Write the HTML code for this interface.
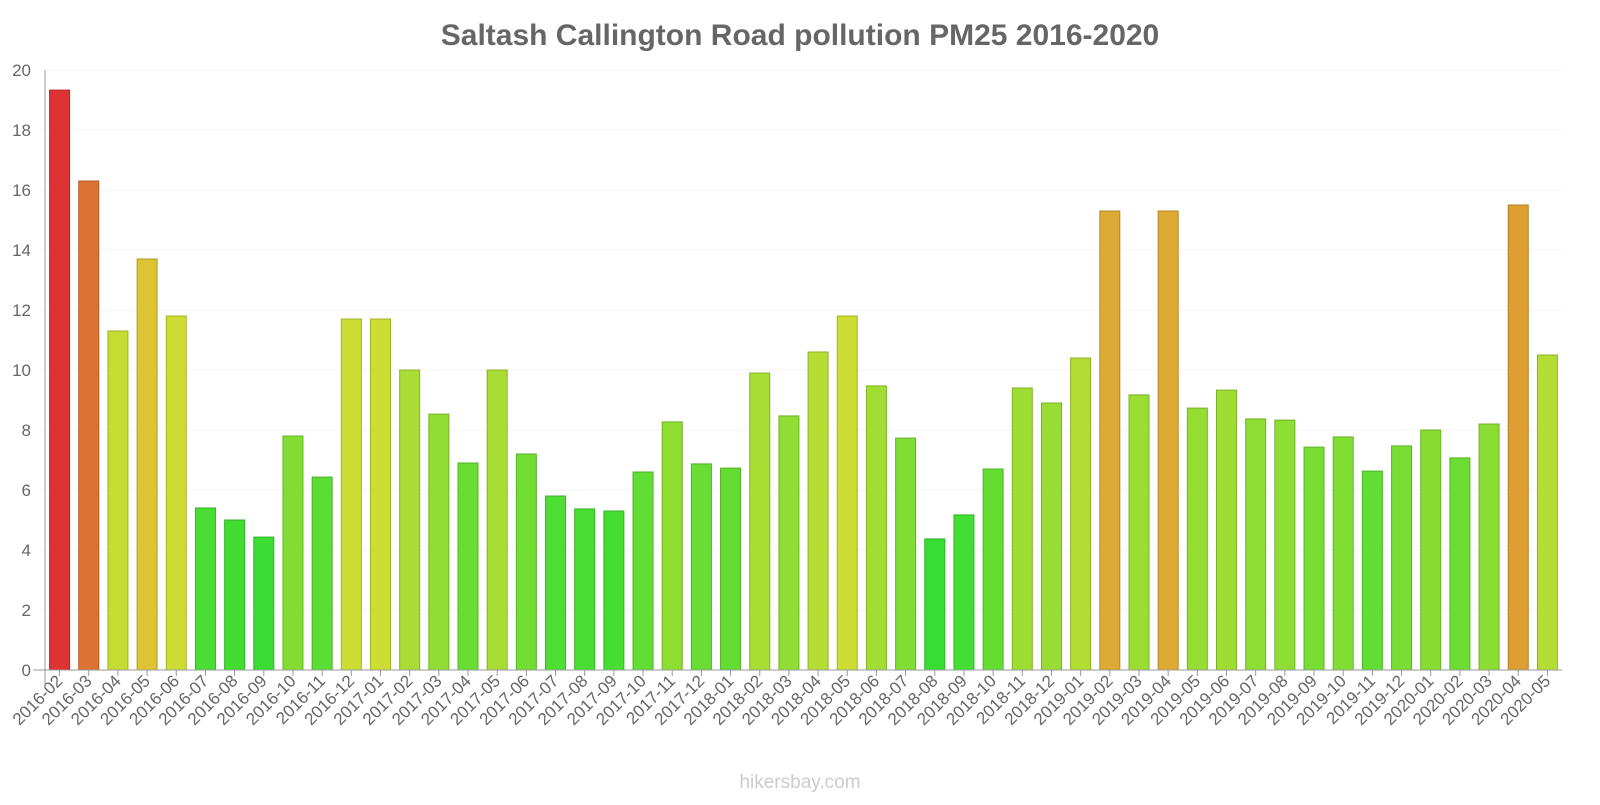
<!DOCTYPE html>
<html><head><meta charset="utf-8"><style>
body{margin:0;background:#fff;font-family:"Liberation Sans",sans-serif}
</style></head><body>
<svg id="chart" width="1600" height="800" xmlns="http://www.w3.org/2000/svg">
<text x="800" y="45" text-anchor="middle" font-size="30" font-weight="bold" fill="#666" font-family="Liberation Sans, sans-serif">Saltash Callington Road pollution PM25 2016-2020</text>
<g id="grid"></g><g id="bars"></g><g id="axes"></g>
<text x="800" y="788" text-anchor="middle" font-size="19" fill="#ccc" font-family="Liberation Sans, sans-serif">hikersbay.com</text>
</svg>
<script>
const categories=["2016-02","2016-03","2016-04","2016-05","2016-06","2016-07","2016-08","2016-09","2016-10","2016-11","2016-12","2017-01","2017-02","2017-03","2017-04","2017-05","2017-06","2017-07","2017-08","2017-09","2017-10","2017-11","2017-12","2018-01","2018-02","2018-03","2018-04","2018-05","2018-06","2018-07","2018-08","2018-09","2018-10","2018-11","2018-12","2019-01","2019-02","2019-03","2019-04","2019-05","2019-06","2019-07","2019-08","2019-09","2019-10","2019-11","2019-12","2020-01","2020-02","2020-03","2020-04","2020-05"];
const values=[19.33,16.3,11.3,13.7,11.8,5.4,5.0,4.43,7.8,6.43,11.7,11.7,10,8.53,6.9,10,7.2,5.8,5.37,5.3,6.6,8.27,6.87,6.73,9.9,8.47,10.6,11.8,9.47,7.73,4.37,5.17,6.7,9.4,8.9,10.4,15.3,9.17,15.3,8.73,9.33,8.37,8.33,7.43,7.77,6.63,7.47,8,7.07,8.2,15.5,10.5];
const yTicks=[0,2,4,6,8,10,12,14,16,18,20];
const NS="http://www.w3.org/2000/svg";
const x0=45,x1=1562,yTop=70,yBot=670,yMax=20;
const band=(x1-x0)/categories.length;
const yScale=v=>yBot-(v/yMax)*(yBot-yTop);
const xScale=i=>x0+band*(i+0.5);
const stops=[[4,[51,221,51]],[6,[80,221,51]],[8,[136,221,51]],[10,[170,221,51]],[12,[210,221,51]],[13.7,[221,196,51]],[15.3,[221,170,51]],[16.3,[221,115,51]],[19,[221,51,51]]];
function color(v,d){let c=stops[stops.length-1][1];
for(let i=0;i<stops.length-1;i++){const[a,ca]=stops[i],[b,cb]=stops[i+1];
if(v<=a){c=ca;break}if(v<=b){const t=(v-a)/(b-a);c=ca.map((x,k)=>x+(cb[k]-x)*t);break}}
return `rgb(${c.map(x=>Math.round(x*d)).join(',')})`}
function mk(t,a,p){const e=document.createElementNS(NS,t);for(const k in a)e.setAttribute(k,a[k]);p.appendChild(e);return e}
const grid=document.getElementById('grid'),bars=document.getElementById('bars'),axes=document.getElementById('axes');
yTicks.forEach(t=>{
const l=mk('line',{x1:x0,x2:x1,y1:yScale(t),y2:yScale(t),stroke:'#f3f3f3'},grid);


const tx=mk('text',{x:x0-14,y:yScale(t)+6,'text-anchor':'end','font-size':17,fill:'#666'},axes);
tx.textContent=t;


});
values.forEach((v,i)=>{
const w=20,cx=xScale(i);
const r=mk('rect',{x:cx-w/2,y:yScale(v),width:w,height:yBot-yScale(v),fill:color(v,1),stroke:color(v,0.8),'stroke-width':1},bars);


const tk=mk('line',{x1:cx,x2:cx,y1:yBot,y2:yBot+6,stroke:'#999'},axes);


const tx=mk('text',{x:cx+4,y:yBot+12,'text-anchor':'end','font-size':17,fill:'#666',transform:`rotate(-45 ${cx+4} ${yBot+12})`},axes);
tx.textContent=categories[i];


});
const ax=mk('line',{x1:x0,x2:x0,y1:yTop,y2:yBot+18,stroke:'#999'},axes);


const bx=mk('line',{x1:x0-12,x2:x1,y1:yBot,y2:yBot,stroke:'#999'},axes);


</script>
</body></html>
